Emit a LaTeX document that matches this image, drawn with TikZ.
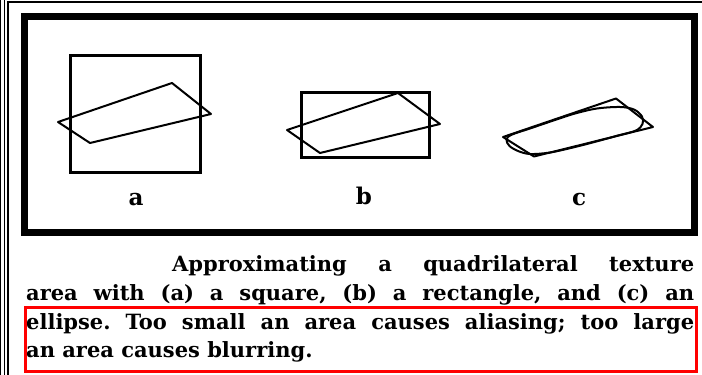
\documentclass[tikz,border=0pt]{standalone}
\usepackage{fontspec}
\setmainfont{DejaVu Serif}
\begin{document}
\frenchspacing
\begin{tikzpicture}[x=1pt,y=-1pt,
  thinrule/.style={line width=1.3pt},
  frame/.style={line width=7pt},
  box/.style={line width=3pt},
  quad/.style={line width=2pt, line join=round},
  lbl/.style={font=\fontsize{23}{23}\selectfont\bfseries, anchor=base, inner sep=0pt},
  captext/.style={font=\fontsize{21}{28}\selectfont\bfseries, anchor=base west, inner sep=0pt}]
\useasboundingbox (0,0) rectangle (702,375);
\fill[white] (0,0) rectangle (702,375);
% page rules
\draw[thinrule] (0.8,0) -- (0.8,375);
\draw[thinrule] (4.7,0) -- (4.7,375);
\draw[line width=1.8pt] (8,375) -- (8,2) -- (702,2);
% figure frame
\draw[frame] (24.5,16) rectangle (694,232);
% (a) square
\draw[box] (70,55) rectangle (200,172.5);
\draw[quad] (58,122) -- (172,83) -- (211,114) -- (90,143) -- cycle;
% (b) rectangle
\draw[box] (301,92.5) rectangle (429,157.5);
\draw[quad] (287,130) -- (398,93) -- (440,124) -- (320,153) -- cycle;
% (c) ellipse
\draw[quad] (503,137) -- (616,98.5) -- (653,127) -- (534,156.5) -- cycle;
\draw[quad] plot[smooth cycle, tension=0.55] coordinates {
  (506.5,140) (511,135) (530,128.5) (555,120) (575,113.5) (597,108.5)
  (620,107) (634,109.5) (642,116.5) (642.5,124) (636,130.5) (618,135.5)
  (600,140.5) (575,147) (550,152.5) (530,154) (518,151) (509.5,146)};
% labels
\node[lbl] (la) at (136,205) {a};
\node[lbl] (lb) at (364,204) {b};
\node[lbl] (lc) at (579,205) {c};
% caption
\node[captext] (l1) at (172,271) {\makebox[522pt][s]{Approximating a quadrilateral texture}};
\node[captext] (l2) at (26,300) {\makebox[668pt][s]{area with (a) a square, (b) a rectangle, and (c) an}};
\node[captext] (l3) at (26,329) {\makebox[668pt][s]{ellipse. Too small an area causes aliasing; too large}};
\node[captext] (l4) at (26,357) {an area causes blurring.};
\draw[red, line width=3pt] (25,307) rectangle (696,371);
\end{tikzpicture}
\end{document}
